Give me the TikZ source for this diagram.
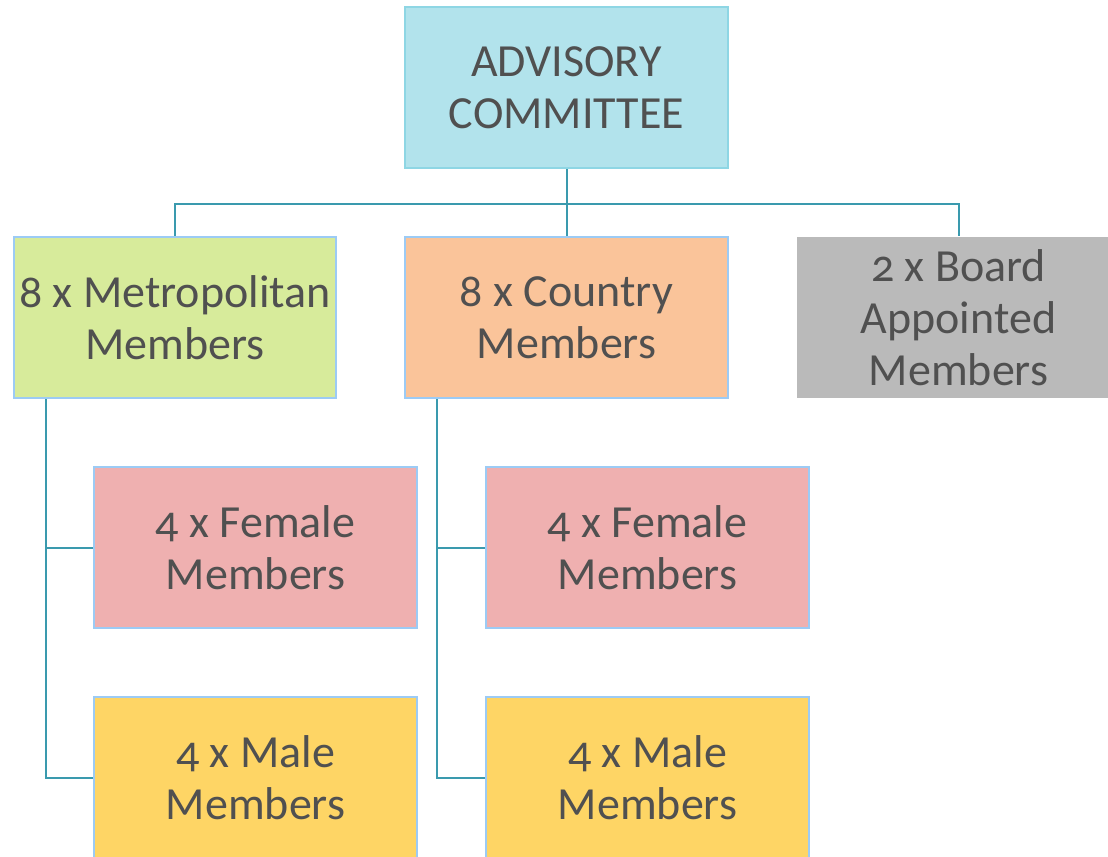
\documentclass[tikz,border=0pt]{standalone}
\usepackage{fontspec}
\setmainfont{Carlito}[Numbers=OldStyle]
\usepackage{tikz}
\usetikzlibrary{calc}
\usepackage{xcolor}
\tikzset{every picture/.style={line width=0.75pt}}

\definecolor{txtgray}{HTML}{505050}
\definecolor{linkteal}{HTML}{3A9AAE}
\definecolor{edgeblue}{HTML}{9CCBF5}
\definecolor{advcyan}{HTML}{B2E3EC}
\definecolor{advedge}{HTML}{8ED6E4}
\definecolor{metrogreen}{HTML}{D7EB9B}
\definecolor{countrypeach}{HTML}{FAC49A}
\definecolor{boardgray}{HTML}{BABABA}
\definecolor{femalepink}{HTML}{EFB0B0}
\definecolor{maleyellow}{HTML}{FED565}

\tikzset{
  orgbox/.style={rectangle, draw=edgeblue, line width=1.5pt, minimum width=242pt, minimum height=121pt,
    inner sep=0pt, align=center, text=txtgray, font=\fontsize{34.5}{39}\selectfont},
  link/.style={draw=linkteal, line width=1.5pt}
}

\begin{document}
\begin{tikzpicture}[x=0.75pt,y=0.75pt,yscale=-1,xscale=1]
%set diagram to 1108 x 857
\useasboundingbox (0,0) rectangle (1108,857);
% Top Node
\node [orgbox, fill=advcyan, draw=advedge] (adv) at (566.5,87.5) {ADVISORY\\COMMITTEE};
% Second Row
\node [orgbox, fill=metrogreen] (metro) at (175,317.5) {8 x Metropolitan\\Members};
\node [orgbox, fill=countrypeach] (country) at (566.5,317.5) {8 x Country\\Members};
\node [orgbox, fill=boardgray, draw=none] (board) at (958.5,317.5) {2 x Board\\Appointed\\Members};
% Third Row
\node [orgbox, fill=femalepink] (femaleA) at (255.5,547.5) {4 x Female\\Members};
\node [orgbox, fill=femalepink] (femaleB) at (647.5,547.5) {4 x Female\\Members};
% Fourth Row
\node [orgbox, fill=maleyellow] (maleA) at (255.5,777.5) {4 x Male\\Members};
\node [orgbox, fill=maleyellow] (maleB) at (647.5,777.5) {4 x Male\\Members};
% Connectors
\coordinate (bus) at ($(adv.south)+(0,35)$);
\draw [link] (adv.south) -- (bus) -| (metro.north);
\draw [link] (bus) -| (country.north);
\draw [link] (bus) -| (board.north);
\coordinate (metroleg) at ($(metro.south west)+(33,0)$);
\coordinate (countryleg) at ($(country.south west)+(33,0)$);
\draw [link] (metroleg) |- (femaleA.west);
\draw [link] (metroleg) |- (maleA.west);
\draw [link] (countryleg) |- (femaleB.west);
\draw [link] (countryleg) |- (maleB.west);
\end{tikzpicture}
\end{document}
